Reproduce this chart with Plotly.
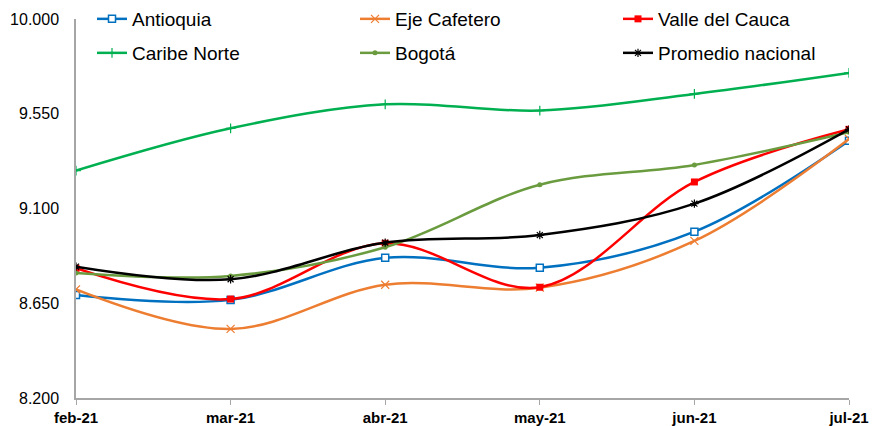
import plotly.graph_objects as go

months = ["feb-21", "mar-21", "abr-21", "may-21", "jun-21", "jul-21"]

antioquia = [8689, 8666, 8866, 8819, 8990, 9422]
eje_cafetero = [8716, 8528, 8738, 8724, 8946, 9430]
valle = [8816, 8670, 8935, 8726, 9226, 9476]
caribe_norte = [9280, 9481, 9595, 9565, 9644, 9744]
bogota = [8794, 8780, 8916, 9213, 9307, 9462]
promedio = [8824, 8764, 8938, 8974, 9123, 9476]

y_ticks = [8200, 8650, 9100, 9550, 10000]
y_tick_labels = ["8.200", "8.650", "9.100", "9.550", "10.000"]

FONT = "Arial, Liberation Sans, sans-serif"

W, H = 875, 426
ML, MR, MT, MB = 76, 26, 19, 28
PW, PH = W - ML - MR, H - MT - MB

series = [
    ("Antioquia", antioquia, "#0070C0", dict(symbol="square", size=7, color="white", line=dict(color="#0070C0", width=1.5))),
    ("Eje Cafetero", eje_cafetero, "#ED7D31", dict(symbol="x-thin", size=8, color="#ED7D31", line=dict(color="#ED7D31", width=1.2))),
    ("Valle del Cauca", valle, "#FF0000", dict(symbol="square", size=7, color="#FF0000", line=dict(color="#FF0000", width=0))),
    ("Caribe Norte", caribe_norte, "#00B050", dict(symbol="cross-thin", size=7, color="#00B050", line=dict(color="#00B050", width=1.2))),
    ("Bogotá", bogota, "#6A9C3F", dict(symbol="circle", size=5, color="#6A9C3F", line=dict(width=0))),
    ("Promedio nacional", promedio, "#000000", dict(symbol="asterisk-open", size=7, color="#000000", line=dict(color="#000000", width=1.2))),
]

# legend slot positions in pixels (left edge of legend box, row center)
legend_px = [(92, 19), (355, 19), (618, 19), (92, 53), (355, 53), (618, 53)]

fig = go.Figure()
legends = {}
for i, ((name, vals, col, mk), (lx, ly)) in enumerate(zip(series, legend_px)):
    lid = "legend" if i == 0 else f"legend{i + 1}"
    fig.add_trace(go.Scatter(
        x=months, y=vals, name=name, mode="lines+markers",
        line=dict(color=col, width=2.5, shape="spline", smoothing=1.0),
        marker=mk, legend=lid, showlegend=True,
    ))
    legends[lid] = dict(
        x=(lx - ML) / PW, y=1 - (ly - MT) / PH,
        xanchor="left", yanchor="middle", orientation="h",
        font=dict(family=FONT, size=19, color="#000000"),
        bgcolor="rgba(0,0,0,0)",
    )

fig.update_layout(
    width=W, height=H, showlegend=True,
    margin=dict(l=ML, r=MR, t=MT, b=MB, autoexpand=False),
    paper_bgcolor="white", plot_bgcolor="white",
    font=dict(family=FONT, size=13, color="#000000"),
    xaxis=dict(
        type="category", range=[0, 5],
        showline=True, linecolor="#A6A6A6", linewidth=1.5,
        ticks="outside", tickcolor="#A6A6A6", ticklen=5,
        showgrid=False, zeroline=False,
        tickfont=dict(family=FONT, size=15, color="#000000", weight="bold"),
    ),
    yaxis=dict(
        range=[8200, 10000], tickvals=y_ticks, ticktext=y_tick_labels,
        showline=True, linecolor="#A6A6A6", linewidth=1.5,
        ticks="", showgrid=False, zeroline=False, ticklabelstandoff=12,
        tickfont=dict(family=FONT, size=16, color="#000000"),
    ),
    **legends,
)

fig.write_html("out.html", config={"displayModeBar": False},
               post_script="document.body.style.margin='0';")
